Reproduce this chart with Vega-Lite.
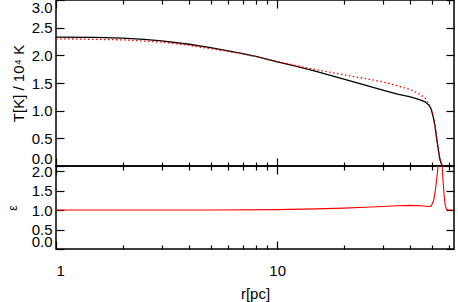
{
  "$schema": "https://vega.github.io/schema/vega-lite/v6.json",
  "padding": {"left": 5, "top": -2, "right": 0, "bottom": 2},
  "background": "white",
  "spacing": 0,
  "bounds": "flush",
  "config": {
    "view": {"stroke": "black", "strokeWidth": 1.5},
    "font": "Liberation Sans",
    "axis": {
      "grid": false, "domain": false, "labelOverlap": false,
      "tickColor": "black", "tickWidth": 1.2,
      "labelColor": "black", "labelFont": "Liberation Sans", "labelFontSize": 15,
      "titleFont": "Liberation Sans", "titleFontWeight": "normal", "titleFontSize": 15, "titleColor": "black"
    }
  },
  "datasets": {
    "T_solid": [
      {"r": 1, "T": 2.33}, {"r": 1.5, "T": 2.325}, {"r": 2, "T": 2.31}, {"r": 2.5, "T": 2.29},
      {"r": 3, "T": 2.26}, {"r": 4, "T": 2.2}, {"r": 5, "T": 2.14}, {"r": 6, "T": 2.08},
      {"r": 7, "T": 2.03}, {"r": 8, "T": 1.98}, {"r": 10, "T": 1.88}, {"r": 12, "T": 1.81},
      {"r": 15, "T": 1.71}, {"r": 20, "T": 1.57}, {"r": 25, "T": 1.46}, {"r": 30, "T": 1.37},
      {"r": 35, "T": 1.3}, {"r": 40, "T": 1.25}, {"r": 44, "T": 1.2}, {"r": 46.6, "T": 1.16},
      {"r": 48.5, "T": 1.1}, {"r": 49.7, "T": 1.03}, {"r": 50.8, "T": 0.88}, {"r": 51.7, "T": 0.72},
      {"r": 52.6, "T": 0.5}, {"r": 53.5, "T": 0.3}, {"r": 54.3, "T": 0.14}, {"r": 55.2, "T": 0.04},
      {"r": 56, "T": 0.0}, {"r": 58, "T": 0.0}, {"r": 63, "T": 0.0}
    ],
    "T_dotted": [
      {"r": 1, "T": 2.3}, {"r": 2, "T": 2.28}, {"r": 3, "T": 2.24}, {"r": 4, "T": 2.18},
      {"r": 6, "T": 2.07}, {"r": 8, "T": 1.98}, {"r": 10, "T": 1.89}, {"r": 13, "T": 1.79},
      {"r": 15, "T": 1.74}, {"r": 20, "T": 1.65}, {"r": 25, "T": 1.58}, {"r": 30, "T": 1.52},
      {"r": 35, "T": 1.45}, {"r": 40, "T": 1.38}, {"r": 44, "T": 1.3}, {"r": 46.6, "T": 1.23},
      {"r": 48.5, "T": 1.12}, {"r": 49.7, "T": 1.04}, {"r": 50.8, "T": 0.9}, {"r": 51.7, "T": 0.72},
      {"r": 52.6, "T": 0.5}, {"r": 53.5, "T": 0.3}, {"r": 54.3, "T": 0.14}, {"r": 55.2, "T": 0.04},
      {"r": 56, "T": 0.0}, {"r": 63, "T": 0.0}
    ],
    "eps": [
      {"r": 1, "e": 1.0}, {"r": 5, "e": 1.0}, {"r": 10, "e": 1.01}, {"r": 15, "e": 1.03},
      {"r": 20, "e": 1.05}, {"r": 25, "e": 1.07}, {"r": 30, "e": 1.09}, {"r": 35, "e": 1.11},
      {"r": 40, "e": 1.12}, {"r": 45, "e": 1.11}, {"r": 48, "e": 1.09}, {"r": 49.7, "e": 1.1},
      {"r": 51, "e": 1.25}, {"r": 52, "e": 1.54}, {"r": 53, "e": 1.95}, {"r": 53.5, "e": 2.2},
      {"r": 54.3, "e": 2.6}, {"r": 55, "e": 2.6}, {"r": 55.6, "e": 2.2}, {"r": 56, "e": 1.9},
      {"r": 56.8, "e": 1.4}, {"r": 57.5, "e": 1.12}, {"r": 58.2, "e": 1.03}, {"r": 59, "e": 1.0},
      {"r": 63, "e": 1.0}
    ]
  },
  "vconcat": [
    {
      "width": 398,
      "height": 166,
      "layer": [
        {
          "data": {"name": "T_solid"},
          "mark": {"type": "line", "color": "black", "strokeWidth": 1.3, "clip": true},
          "encoding": {
            "x": {"field": "r", "type": "quantitative",
              "scale": {"type": "log", "domain": [1, 63], "nice": false},
              "axis": {"orient": "bottom", "values": [1,2,3,4,5,6,7,8,9,10,20,30,40,50,60], "labels": false, "title": null,
                "tickSize": {"condition": {"test": "datum.value == 1 || datum.value == 10", "value": -8}, "value": -4}}},
            "y": {"field": "T", "type": "quantitative",
              "scale": {"domain": [0, 3], "nice": false},
              "axis": {"orient": "left", "values": [0,0.5,1,1.5,2,2.5,3], "format": ".1f", "labelFlush": true,
                "tickSize": -8, "labelPadding": 12, "title": "T[K] / 10⁴ K", "titlePadding": 5}}
          }
        },
        {
          "data": {"name": "T_dotted"},
          "mark": {"type": "line", "color": "#ff0000", "strokeWidth": 1.3, "strokeDash": [1.5, 2.5], "clip": true},
          "encoding": {
            "x": {"field": "r", "type": "quantitative",
              "scale": {"type": "log", "domain": [1, 63], "nice": false},
              "axis": {"orient": "top", "values": [1,2,3,4,5,6,7,8,9,10,20,30,40,50,60], "labels": false, "title": null,
                "tickSize": {"condition": {"test": "datum.value == 1 || datum.value == 10", "value": -8}, "value": -4}}},
            "y": {"field": "T", "type": "quantitative",
              "scale": {"domain": [0, 3], "nice": false},
              "axis": {"orient": "right", "values": [0,0.5,1,1.5,2,2.5,3], "labels": false, "tickSize": -8, "title": null}}
          }
        }
      ],
      "resolve": {"axis": {"x": "independent", "y": "independent"}}
    },
    {
      "width": 398,
      "height": 83,
      "layer": [
        {
          "data": {"name": "eps"},
          "mark": {"type": "line", "color": "#ff0000", "strokeWidth": 1.1, "clip": true},
          "encoding": {
            "x": {"field": "r", "type": "quantitative",
              "scale": {"type": "log", "domain": [1, 63], "nice": false},
              "axis": {"orient": "bottom", "values": [1,2,3,4,5,6,7,8,9,10,20,30,40,50,60],
                "labelExpr": "datum.value == 1 ? '1' : datum.value == 10 ? '10' : ''",
                "labelPadding": 22, "title": "r[pc]", "titlePadding": 4,
                "tickSize": {"condition": {"test": "datum.value == 1 || datum.value == 10", "value": -8}, "value": -4}}},
            "y": {"field": "e", "type": "quantitative",
              "scale": {"domain": [0, 2.13], "nice": false},
              "axis": {"orient": "left", "values": [0,0.5,1,1.5,2], "format": ".1f", "labelFlush": true,
                "tickSize": -8, "labelPadding": 12, "title": "ε", "titleFontSize": 12, "titlePadding": 12}}
          }
        },
        {
          "data": {"name": "eps"},
          "mark": {"type": "line", "opacity": 0},
          "encoding": {
            "x": {"field": "r", "type": "quantitative",
              "scale": {"type": "log", "domain": [1, 63], "nice": false},
              "axis": {"orient": "top", "values": [1,2,3,4,5,6,7,8,9,10,20,30,40,50,60], "labels": false, "title": null,
                "tickSize": {"condition": {"test": "datum.value == 1 || datum.value == 10", "value": -8}, "value": -4}}},
            "y": {"field": "e", "type": "quantitative",
              "scale": {"domain": [0, 2.13], "nice": false},
              "axis": {"orient": "right", "values": [0,0.5,1,1.5,2], "labels": false, "tickSize": -8, "title": null}}
          }
        }
      ],
      "resolve": {"axis": {"x": "independent", "y": "independent"}}
    }
  ]
}
